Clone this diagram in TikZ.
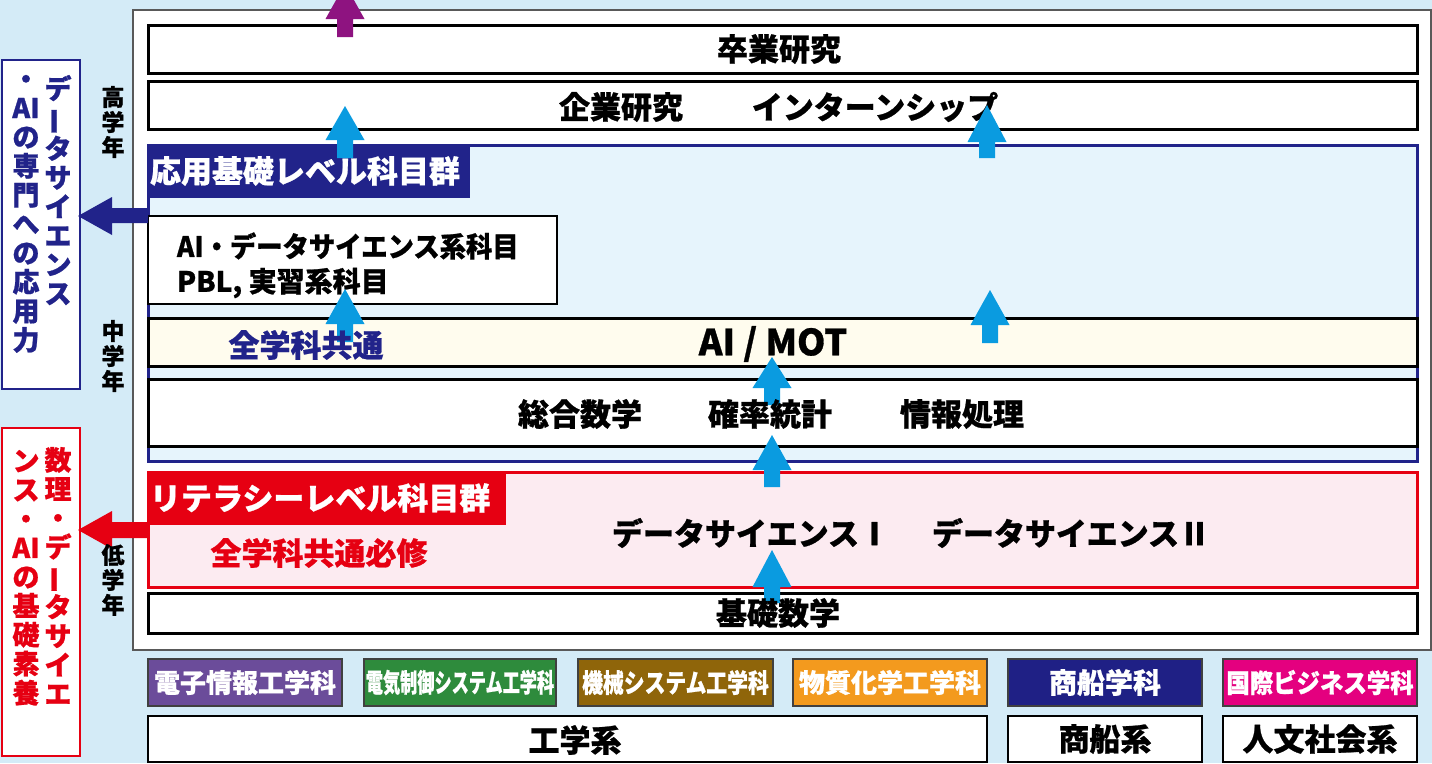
\documentclass[tikz,border=0pt]{standalone}
\usepackage{fontspec}
\usepackage{graphicx}
\setmainfont{Noto Sans CJK JP}[BoldFeatures={FakeBold=0.8}]
\definecolor{bgblue}{HTML}{D4EBF7}
\definecolor{navyc}{HTML}{21238A}
\definecolor{redc}{HTML}{E60012}
\definecolor{cyanc}{HTML}{0A9BE0}
\definecolor{purpc}{HTML}{8E1380}
\definecolor{lblue}{HTML}{E6F4FC}
\definecolor{cream}{HTML}{FFFCEE}
\definecolor{pinkc}{HTML}{FCEBF1}
\definecolor{dpurple}{HTML}{6B4C9A}
\definecolor{dgreen}{HTML}{2E8B3C}
\definecolor{dbrown}{HTML}{8F650A}
\definecolor{dorange}{HTML}{F39A1E}
\definecolor{dnavy}{HTML}{1F2085}
\definecolor{dmag}{HTML}{E4007F}
\newcommand\vbar{\rotatebox[origin=c]{90}{ー}}
\newcommand\bx[6]{\node[#1, anchor=north west, minimum width={#4-#2}, minimum height={#5-#3}] (#6) at (#2,#3) {};}
\newcommand\uparr[5]{\fill[#1] ({#2-8},#3) -- ({#2-8},#4) -- ({#2-19.5},#4) -- (#2,#5) -- ({#2+19.5},#4) -- ({#2+8},#4) -- ({#2+8},#3) -- cycle;}
\begin{document}
\begin{tikzpicture}[x=1pt,y=-1pt,
  every node/.style={inner sep=0pt, outer sep=0pt},
  rowbox/.style={draw=black, line width=3pt, fill=white},
  deptbox/.style={draw=black!75, line width=1.2pt},
  botbox/.style={draw=black, line width=2pt, fill=white},
  big/.style={font=\fontsize{31}{33}\selectfont\bfseries},
  mid/.style={font=\fontsize{28}{30}\selectfont\bfseries},
  dept/.style={font=\fontsize{26}{28}\selectfont\bfseries, text=white},
  vtext/.style={align=center, font=\fontsize{27}{29}\selectfont\bfseries},
  ytext/.style={align=center, font=\fontsize{23}{25}\selectfont\bfseries}]
\useasboundingbox (0,0) rectangle (1432,763);
\fill[bgblue] (0,0) rectangle (1432,763);
% outer frame
\bx{draw=black!65, line width=1.5pt, fill=white}{133}{10}{1431}{650}{frame}
% rows
\bx{rowbox}{148}{25}{1417}{73}{sotsu}
\bx{rowbox}{148}{81}{1417}{129}{kigyo}
\bx{draw=navyc, line width=3pt, fill=lblue}{148}{145}{1417}{461}{oyo}
\bx{fill=navyc}{148}{145}{470}{198}{oyolab}
\bx{rowbox, line width=2.2pt}{148}{216}{557}{304}{aibox}
\bx{rowbox, fill=cream}{148}{318}{1417}{366}{mot}
\bx{rowbox}{148}{379}{1417}{446}{sogo}
\bx{draw=redc, line width=3pt, fill=pinkc}{148}{472}{1417}{587}{lit}
\bx{fill=redc}{148}{472}{506}{525}{litlab}
\bx{rowbox}{148}{593}{1417}{633}{kiso}
% departments
\bx{deptbox, fill=dpurple}{148}{659}{342}{706}{d1}
\bx{deptbox, fill=dgreen}{364}{659}{556}{706}{d2}
\bx{deptbox, fill=dbrown}{578}{659}{773}{706}{d3}
\bx{deptbox, fill=dorange}{793}{659}{987}{706}{d4}
\bx{deptbox, fill=dnavy}{1008}{659}{1202}{706}{d5}
\bx{deptbox, fill=dmag}{1223}{659}{1417}{706}{d6}
\bx{botbox}{148}{716}{987}{762}{b1}
\bx{botbox}{1008}{716}{1202}{762}{b2}
\bx{botbox}{1223}{716}{1417}{762}{b3}
% side boxes
\bx{draw=navyc, line width=1.5pt, fill=white}{2}{60}{80}{389}{sideb}
\bx{draw=redc, line width=1.5pt, fill=white}{2}{428}{80}{756}{sider}
% left arrows
\fill[navyc] (148,208) -- (112,208) -- (112,197) -- (78,216) -- (112,235) -- (112,223) -- (148,223) -- cycle;
\fill[redc] (148,522) -- (112,522) -- (112,511) -- (78,530) -- (112,549) -- (112,538) -- (148,538) -- cycle;
% texts under arrows
\node[big] (t1) at (779,49) {卒業研究};
\node[big] (t2) at (621,107) {企業研究};
\node[big] (t3) at (875,107) {インターンシップ};
\node[big, text=white, anchor=west] (t4) at (150,171) {応用基礎レベル科目群};
\node[mid, anchor=west] (t5) at (177,246) {\scalebox{0.94}[1]{AI・データサイエンス系科目}};
\node[mid, anchor=west] (t6) at (177,283) {PBL, 実習系科目};
\node[big, font=\fontsize{36}{38}\selectfont\bfseries] (t8) at (773,344) {AI / MOT};
\node[big, text=white, anchor=west] (t9) at (150,498) {リテラシーレベル科目群};
\node[big, text=redc] (t10) at (319,553) {全学科共通必修};
\node[big] (t11) at (751,533) {データサイエンスⅠ};
\node[big] (t12) at (1071,533) {データサイエンスⅡ};
% arrows
\uparr{purpc}{345}{37}{19}{-16}
\uparr{cyanc}{345}{158}{140}{106}
\uparr{cyanc}{345}{342}{324}{289}
\uparr{cyanc}{987}{158}{142}{105}
\uparr{cyanc}{990}{343}{325}{290}
\uparr{cyanc}{772}{405}{388}{357}
\uparr{cyanc}{772}{487}{470}{435}
\uparr{cyanc}{772}{603}{587}{550}
% texts over arrows
\node[big, text=navyc] (t7) at (306,345) {全学科共通};
\node[big] (s1) at (580,414) {総合数学};
\node[big] (s2) at (770,414) {確率統計};
\node[big] (s3) at (962,414) {情報処理};
\node[big] (t13) at (778,613) {基礎数学};
% departments text
\node[dept] at (d1.center) {電子情報工学科};
\node[dept] at (d2.center) {\scalebox{0.66}[1]{電気制御システム工学科}};
\node[dept] at (d3.center) {\scalebox{0.8}[1]{機械システム工学科}};
\node[dept] at (d4.center) {物質化学工学科};
\node[dept, font=\fontsize{28}{30}\selectfont\bfseries] at (d5.center) {商船学科};
\node[dept] at (d6.center) {\scalebox{0.9}[1]{国際ビジネス学科}};
\node[big] at (575,740) {工学系};
\node[big] at (b2.center) {商船系};
\node[big] at (b3.center) {人文社会系};
% year labels
\node[ytext] (y1) at (113,122) {高\\学\\年};
\node[ytext] (y2) at (113,356) {中\\学\\年};
\node[ytext] (y3) at (113,580) {低\\学\\年};
% vertical side texts
\node[vtext, text=navyc, anchor=north] (bv1) at (58,75) {デ\\\vbar\\タ\\サ\\イ\\エ\\ン\\ス};
\node[vtext, text=navyc, anchor=north] (bv2) at (26,75) {・\\AI\\の\\専\\門\\へ\\の\\応\\用\\力};
\node[vtext, text=redc, anchor=north] (rv1) at (58,447) {数\\理\\・\\デ\\\vbar\\タ\\サ\\イ\\エ};
\node[vtext, text=redc, anchor=north] (rv2) at (26,450) {ン\\ス\\・\\AI\\の\\基\\礎\\素\\養};
\end{tikzpicture}
\end{document}
